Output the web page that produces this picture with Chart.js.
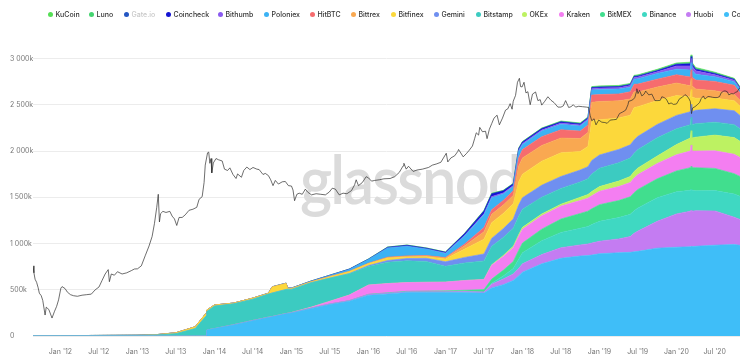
<!DOCTYPE html>
<html><head><meta charset="utf-8">
<script src="https://cdn.jsdelivr.net/npm/chart.js@4.4.1/dist/chart.umd.min.js"></script>
<style>
html,body{margin:0;padding:0;background:#fff;}
#wrap{position:relative;width:740px;height:355px;overflow:hidden;}
#legend{position:absolute;left:0;top:0;width:740px;height:28px;font-family:Inter,'Noto Sans',sans-serif;font-size:7px;font-weight:500;color:#333;white-space:nowrap;}
.li{position:absolute;top:10px;height:8px;display:flex;align-items:center;}
.dot{width:5px;height:5px;border-radius:50%;margin-right:3px;flex:none;}
canvas{position:absolute;left:0;top:0;}
</style></head>
<body><div id="wrap"><canvas id="c" width="740" height="355"></canvas><div id="legend"></div></div>
<script>
// ---- time grid for exchange balances (fractional years) ----
const DATES = [2011.643,2012.0,2012.5,2013.0,2013.25,2013.5,2013.75,2013.89,2013.9,2014.0,
2014.25,2014.5,2014.7,2014.75,2014.93,2014.95,2015.0,2015.25,2015.5,2015.75,
2016.0,2016.25,2016.5,2016.75,2017.0,2017.25,2017.5,2017.6,2017.75,2017.88,
2017.95,2018.0,2018.25,2018.5,2018.75,2018.85,2018.9,2019.0,2019.25,2019.4,
2019.45,2019.5,2019.75,2020.0,2020.18,2020.19,2020.2,2020.25,2020.5,2020.75,2020.825];

// ---- balances, thousands of BTC ----
const COINBASE = [0,0,0,0,0,0,0,0,65,80, 120,165,200,207,240,243,248,295,340,375, 440,455,470,470,470,470,465,520,555,600, 650,690,780,840,865,870,875,890,900,905, 910,915,950,960,965,970,965,970,982,990,980];
const HUOBI    = [0,0,0,0,0,0,0,0,0,0, 2,3,3,3,3,3,4,5,6,7, 8,8,8,8,8,10,12,40,60,70, 80,90,100,115,120,125,130,135,150,170, 200,220,290,360,385,390,385,385,370,295,280];
const BINANCE  = [0,0,0,0,0,0,0,0,0,0, 0,0,0,0,0,0,0,0,0,0, 0,0,0,0,0,0,0,10,35,60, 100,120,150,165,180,190,200,215,230,240, 245,250,255,240,225,225,225,215,220,250,250];
const BITMEX   = [0,0,0,0,0,0,0,0,0,0, 0,0,0,0,0,0,0,0,0,0, 3,4,5,8,10,15,25,45,60,75, 95,105,125,145,160,165,170,180,185,190, 195,200,205,225,245,250,245,250,240,220,215];
const KRAKEN   = [0,0,0,0,0,0,0,0,0,0, 0,0,0,0,0,0,2,10,30,60, 100,100,95,95,95,105,110,150,150,150, 150,150,145,140,140,140,142,145,150,155, 158,160,165,175,180,230,180,180,190,210,205];
const OKEX     = [0,0,0,0,0,0,0,0,0,0, 0,0,0,0,0,0,0,0,0,0, 0,0,0,0,0,0,0,5,10,15, 20,20,20,20,35,40,45,50,60,65, 70,72,80,110,140,155,140,150,170,180,175];
const BITSTAMP = [3,4,6,8,12,25,80,215,200,243, 226,230,250,255,260,260,250,265,250,230, 200,230,235,225,170,190,200,200,195,195, 200,195,180,170,165,170,190,198,198,198, 198,198,198,170,145,145,145,145,140,140,135];
const GEMINI   = [0,0,0,0,0,0,0,0,0,0, 0,0,0,0,0,0,0,0,0,3, 10,20,25,35,50,60,75,85,95,100, 120,125,130,130,130,130,145,144,144,144, 144,144,144,145,140,140,140,145,145,150,145];
const BITFINEX = [0,0,0,0,3,10,20,30,15,12, 8,12,8,65,65,10,10,10,15,20, 20,25,15,15,30,90,160,170,165,165, 250,255,260,255,200,220,430,380,340,320, 350,320,260,215,160,160,160,130,115,108,100];
const BITTREX  = [0,0,0,0,0,0,0,0,0,0, 0,0,0,0,0,0,0,0,2,3, 5,8,10,10,10,35,80,90,90,90, 170,175,170,160,140,150,200,198,185,175, 170,160,144,135,120,120,120,100,80,68,65];
const HITBTC   = [0,0,0,0,0,0,0,0,0,0, 0,0,0,0,0,0,0,0,0,0, 0,2,3,4,5,20,45,50,50,50, 90,90,95,90,80,80,78,75,75,78, 82,84,86,90,95,95,95,97,100,100,80];
const POLONIEX = [0,0,0,0,0,0,0,0,0,0, 0,0,2,2,3,3,4,5,12,20, 40,100,105,70,45,90,140,130,70,45, 70,55,60,60,55,55,55,55,52,50, 55,58,60,60,75,75,75,62,50,38,34];
const BITHUMB  = [0,0,0,0,0,0,0,0,0,0, 0,0,0,0,0,0,0,0,0,0, 0,0,0,0,3,5,10,12,12,12, 12,12,12,12,12,12,14,15,16,17, 18,18,20,35,45,45,45,38,22,16,12];
const COINCHECK= [0,0,0,0,0,0,0,0,0,0, 0,0,0,0,0,0,0,3,3,5, 5,8,10,10,10,18,30,30,22,18, 18,16,15,14,13,13,12,12,12,12, 12,12,12,18,22,22,22,18,14,10,8];
const GATEIO   = [0,0,0,0,0,0,0,0,0,0, 0,0,0,0,0,0,0,0,0,0, 0,0,0,0,0,0,5,6,8,10, 12,14,16,18,18,18,19,20,20,20, 21,21,22,24,25,25,25,25,26,26,26];
const LUNO     = [0,0,0,0,0,0,0,0,0,0, 0,0,0,0,0,0,0,0,0,0, 2,2,2,2,2,3,4,4,4,3, 3,3,4,5,5,5,6,7,7,7, 7,7,8,8,10,10,10,10,8,6,6];
const KUCOIN   = [0,0,0,0,0,0,0,0,0,0, 0,0,0,0,0,0,0,0,0,0, 0,0,0,0,0,0,1,2,2,2, 2,2,2,3,3,3,4,5,5,5, 5,5,6,6,8,8,8,8,6,5,5];

// ---- BTC price (USD) ----
const PRICE_T = [2011.643,2011.655,2011.67,2011.69,2011.71,2011.725,2011.75,2011.77,2011.8,2011.815,2011.83,2011.85,2011.89,2011.92,2011.95,2011.975,
2012.005,2012.02,2012.06,2012.09,2012.13,2012.17,2012.22,2012.28,2012.34,2012.4,2012.45,2012.5,2012.54,2012.58,2012.62,2012.635,2012.66,2012.7,2012.74,2012.8,2012.86,2012.92,2012.96,
2013.0,2013.05,2013.1,2013.15,2013.19,2013.22,2013.25,2013.27,2013.285,2013.3,2013.33,2013.37,2013.42,2013.45,2013.48,2013.51,2013.54,2013.58,2013.62,2013.67,2013.72,2013.77,2013.8,2013.84,2013.865,2013.88,2013.91,2013.925,2013.94,2013.955,2013.965,2013.985,
2014.02,2014.05,2014.1,2014.13,2014.17,2014.2,2014.24,2014.28,2014.3,2014.35,2014.38,2014.42,2014.46,2014.5,2014.55,2014.58,2014.63,2014.66,2014.7,2014.73,2014.76,2014.79,2014.83,2014.88,2014.92,2014.96,
2015.0,2015.02,2015.04,2015.07,2015.1,2015.14,2015.18,2015.21,2015.26,2015.32,2015.38,2015.44,2015.49,2015.53,2015.57,2015.62,2015.67,2015.72,2015.78,2015.82,2015.84,2015.87,2015.92,2015.97,
2016.0,2016.04,2016.08,2016.14,2016.2,2016.28,2016.34,2016.4,2016.45,2016.46,2016.49,2016.52,2016.58,2016.63,2016.7,2016.78,2016.83,2016.88,2016.94,2016.98,
2017.01,2017.03,2017.07,2017.12,2017.16,2017.17,2017.23,2017.27,2017.31,2017.35,2017.38,2017.4,2017.43,2017.445,2017.48,2017.52,2017.54,2017.57,2017.6,2017.63,2017.67,2017.7,2017.74,2017.78,2017.81,2017.84,2017.865,2017.88,2017.91,2017.935,2017.96,2017.975,2017.995,
2018.02,2018.045,2018.07,2018.1,2018.13,2018.17,2018.2,2018.23,2018.25,2018.29,2018.33,2018.37,2018.41,2018.46,2018.5,2018.53,2018.56,2018.6,2018.63,2018.66,2018.69,2018.73,2018.78,2018.83,2018.86,2018.88,2018.9,2018.93,2018.955,2018.99,
2019.03,2019.07,2019.1,2019.14,2019.18,2019.22,2019.26,2019.3,2019.34,2019.37,2019.38,2019.41,2019.44,2019.46,2019.48,2019.485,2019.5,2019.52,2019.55,2019.58,2019.6,2019.64,2019.68,2019.72,2019.76,2019.79,2019.81,2019.84,2019.87,2019.9,2019.93,2019.96,
2020.0,2020.04,2020.08,2020.11,2020.14,2020.165,2020.18,2020.195,2020.21,2020.24,2020.27,2020.3,2020.32,2020.35,2020.37,2020.41,2020.44,2020.47,2020.5,2020.53,2020.56,2020.58,2020.61,2020.63,2020.66,2020.68,2020.71,2020.74,2020.77,2020.79,2020.81,2020.825];
const PRICE_V = [15,11.5,9,8,6.5,5.3,4.8,4,2.3,3.1,3.0,2.8,2.05,2.6,3.2,4.1,
6.4,6.8,6.3,5.5,5.0,4.8,4.7,4.9,5.0,5.1,6.0,6.7,8.6,11,13,8.2,11,10.5,12,11,11.5,12.5,13.3,
13.4,15,22,32,46,75,140,230,80,110,120,115,120,100,90,70,95,95,105,125,130,140,190,210,360,700,1120,1150,750,900,520,760,
900,860,820,600,570,630,490,420,500,440,570,650,590,640,600,590,490,510,470,400,320,390,340,370,375,320,
315,270,180,230,240,230,280,250,225,235,230,225,250,290,280,225,240,235,265,330,400,320,360,450,
430,380,390,400,415,420,450,530,680,750,600,670,550,580,600,640,700,730,780,950,
1100,790,920,1000,1180,1270,960,1080,1240,1450,1950,2400,2200,2950,2500,2550,1920,2750,3400,4200,4700,3250,4200,5700,6000,7300,5900,8000,10000,16500,19200,14000,13800,
16500,11000,11500,7000,10500,11400,8200,8500,6900,8000,9500,8300,7600,6400,6400,6700,8200,6300,6500,7000,6400,6600,6500,6400,6300,4600,3800,4100,3250,3900,
3600,3550,3450,3900,3950,4000,5000,5300,5700,7000,8000,8200,8600,9300,11500,12900,10700,12100,9800,10500,11800,10200,10500,8200,8200,8300,9500,9200,8600,7200,7500,7100,
7200,8800,9400,10300,9700,8700,7900,5000,6200,6500,7000,7600,8800,9800,8700,9600,9500,9300,9200,9200,9600,11000,11700,11900,11500,10200,10700,10600,11300,11500,12900,13300];

// ---- axis ticks ----
const X_TICKS = [2012,2012.496,2013,2013.496,2014,2014.496,2015,2015.496,2016,2016.496,2017,2017.496,2018,2018.496,2019,2019.496,2020,2020.496];
const Y_TICKS = [0,500,1000,1500,2000,2500,3000];

// ---- series table (stack order bottom -> top) ----
const SERIES = [
  ['Coinbase', COINBASE, '#3fbef8'],
  ['Huobi', HUOBI, '#c47cf2'],
  ['Binance', BINANCE, '#3fd8c2'],
  ['BitMEX', BITMEX, '#41de8e'],
  ['Kraken', KRAKEN, '#f47ef1'],
  ['OKEx', OKEX, '#bdf262'],
  ['Bitstamp', BITSTAMP, '#3ccbc1'],
  ['Gemini', GEMINI, '#6f8ff0'],
  ['Bitfinex', BITFINEX, '#fcd83b'],
  ['Bittrex', BITTREX, '#f9a851'],
  ['HitBTC', HITBTC, '#f66c6e'],
  ['Poloniex', POLONIEX, '#3bb2f4'],
  ['Bithumb', BITHUMB, '#8a5af0'],
  ['Coincheck', COINCHECK, '#1414d2'],
  ['Gate.io', GATEIO, '#2456c2'],
  ['Luno', LUNO, '#44d470'],
  ['KuCoin', KUCOIN, '#55de55']
];
const HIDDEN = ['Gate.io'];
const LEGEND_X = [50,91,126,168,220,266,312,353,393,436,478,524,561,602,644,688,726];

const datasets = [{
  label: 'Price', yAxisID: 'y2', xAxisID: 'x',
  data: PRICE_T.map((t, i) => ({x: t, y: PRICE_V[i]})),
  borderColor: 'rgba(40,40,40,0.8)', borderWidth: 0.85, pointRadius: 0, fill: false, tension: 0
}];
SERIES.forEach((s, i) => {
  datasets.push({
    label: s[0], data: s[1], yAxisID: 'y', xAxisID: 'x',
    backgroundColor: s[2], borderColor: s[2], borderWidth: 0.6,
    pointRadius: 0, tension: 0, fill: i === 0 ? 'origin' : '-1',
    hidden: HIDDEN.includes(s[0])
  });
});

// legend (HTML, top of stack first)
const lg = document.getElementById('legend');
SERIES.slice().reverse().forEach((s, i) => {
  const d = document.createElement('div');
  d.className = 'li';
  d.style.left = (LEGEND_X[i] - 2.5) + 'px';
  const hid = HIDDEN.includes(s[0]);
  d.innerHTML = '<span class="dot" style="background:' + s[2] + '"></span><span style="color:' + (hid ? '#c8c8c8' : '#333') + '">' + s[0] + '</span>';
  lg.appendChild(d);
});

const fmtK = v => v === 0 ? '0' : String(v).replace(/\B(?=(\d{3})+(?!\d))/g, ' ') + 'k';
const fmtX = v => { const y = Math.floor(v + 1e-6); return ((v - y) > 0.25 ? 'Jul' : 'Jan') + " '" + String(y).slice(2); };

const watermark = {
  id: 'wm',
  beforeDatasetsDraw(chart) {
    const c = chart.ctx; c.save();
    c.translate(300, 204); c.scale(0.9, 1);
    c.font = '600 68px Lato'; c.fillStyle = '#dbdbdb'; c.textBaseline = 'alphabetic';
    try { c.letterSpacing = '-2px'; } catch (e) {}
    c.fillText('glassnode', 0, 0); c.restore();
  }
};

new Chart(document.getElementById('c'), {
  type: 'line',
  data: { labels: DATES, datasets },
  plugins: [watermark],
  options: {
    responsive: false, animation: false, devicePixelRatio: 1, events: [],
    layout: { padding: { left: 10, top: 40, right: 0, bottom: 0 } },
    plugins: { legend: { display: false }, tooltip: { enabled: false } },
    scales: {
      x: { type: 'linear', min: 2011.643, max: 2020.825,
        afterBuildTicks: s => { s.ticks = X_TICKS.map(v => ({ value: v })); },
        afterFit: s => { s.height = 19; },
        grid: { display: false }, border: { display: false },
        ticks: { autoSkip: false, maxRotation: 0, padding: 4, color: '#777', font: { family: 'Inter', size: 7 }, callback: v => fmtX(v) } },
      y: { stacked: true, min: 0, max: 3200,
        afterBuildTicks: s => { s.ticks = Y_TICKS.map(v => ({ value: v })); },
        afterFit: s => { s.width = 23; },
        border: { display: false }, grid: { color: '#ececec', drawTicks: false },
        ticks: { autoSkip: false, crossAlign: 'far', padding: 0, color: '#777', font: { family: 'Inter', size: 7 }, callback: v => fmtK(v) } },
      y2: { type: 'logarithmic', display: false, min: 1.033, max: 82740 }
    }
  }
});
</script>
</body></html>
